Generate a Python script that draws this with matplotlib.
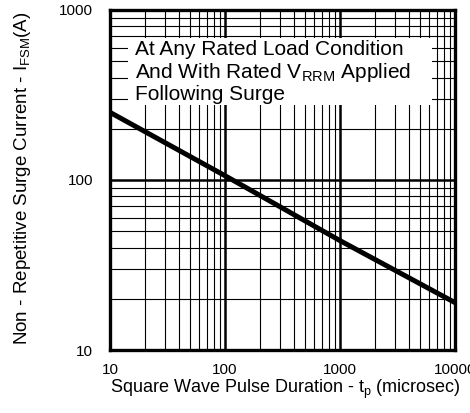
import matplotlib
matplotlib.use("Agg")
import matplotlib.pyplot as plt
from matplotlib.ticker import LogLocator, FixedLocator, FixedFormatter, NullFormatter
from matplotlib.patches import Rectangle

plt.rcParams['font.family'] = ['Liberation Sans', 'DejaVu Sans']
plt.rcParams['mathtext.fontset'] = 'custom'
plt.rcParams['mathtext.rm'] = 'Liberation Sans'
plt.rcParams['mathtext.it'] = 'Liberation Sans'

# Data
pulse_us = [10, 100, 1000, 10000]
surge_a = [250, 106, 44, 19]
x_ticks = [10, 100, 1000, 10000]
x_labels = ["10", "100", "1000", "10000"]
y_ticks = [10, 100, 1000]
y_labels = ["10", "100", "1000"]
note_lines = ["At Any Rated Load Condition",
              "And With Rated V$_{\\mathrm{RRM}}$ Applied",
              "Following Surge"]

W, H = 470, 413
fig = plt.figure(figsize=(W/100, H/100), dpi=100)
ax = fig.add_axes([110/W, 1-350/H, 345/W, 340/H])
ax.set_xscale('log')
ax.set_yscale('log')
ax.set_xlim(10, 10000)
ax.set_ylim(10, 1000)

ax.xaxis.set_major_locator(FixedLocator(x_ticks))
ax.xaxis.set_major_formatter(FixedFormatter(x_labels))
ax.yaxis.set_major_locator(FixedLocator(y_ticks))
ax.yaxis.set_major_formatter(FixedFormatter(y_labels))
ax.xaxis.set_minor_locator(LogLocator(base=10, subs=range(2, 10)))
ax.yaxis.set_minor_locator(LogLocator(base=10, subs=range(2, 10)))
ax.xaxis.set_minor_formatter(NullFormatter())
ax.yaxis.set_minor_formatter(NullFormatter())

ax.set_axisbelow(True)
ax.grid(which='major', color='black', linewidth=1.8)
ax.grid(which='minor', color='black', linewidth=0.8)
ax.tick_params(which='both', length=0, labelsize=11)
ax.tick_params(axis='y', pad=12)
ax.tick_params(axis='x', pad=9)
for s in ax.spines.values():
    s.set_linewidth(2.4)

# white panel behind the note
ax.add_patch(Rectangle((18/345, 1-(105-10)/340), (432-128)/345, (105-38)/340,
                       transform=ax.transAxes, facecolor='white', edgecolor='none', zorder=1.5))
for i, (line, base) in enumerate(zip(note_lines, [55, 78, 100])):
    ax.text(25/345, 1-(base-10)/340, line, transform=ax.transAxes,
            fontsize=15, va='baseline', ha='left', zorder=3)

ax.plot(pulse_us, surge_a, color='black', linewidth=3.6, zorder=2.5, solid_capstyle='butt')

fig.text(285/W, 1-393/H, "Square Wave Pulse Duration - t$_{\\mathrm{p}}$ (microsec)",
         fontsize=13, ha='center', va='baseline')
fig.text(27/W, 1-178/H, "Non - Repetitive Surge Current - I$_{\\mathrm{FSM}}$(A)",
         fontsize=13.5, ha='center', va='baseline', rotation=90, rotation_mode='anchor')

fig.savefig("out.png", dpi=100)
